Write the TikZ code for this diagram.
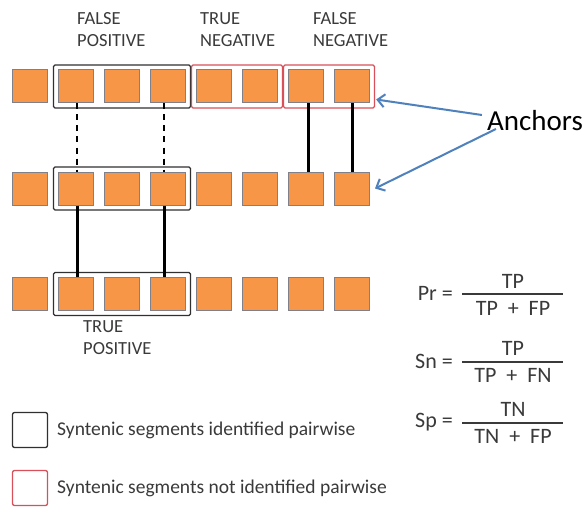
\documentclass[tikz,border=0pt]{standalone}
\usepackage{fontspec}
\setmainfont{Carlito}
\usetikzlibrary{fit,arrows.meta}
\definecolor{blockfill}{HTML}{F79646}
\definecolor{blockline}{HTML}{80808A}
\definecolor{found}{HTML}{303030}
\definecolor{missed}{HTML}{D9505A}
\definecolor{anchorblue}{HTML}{4F81BD}
\definecolor{labelgray}{HTML}{3A3A3A}
\begin{document}
\begin{tikzpicture}[x=1pt,y=-1pt,
  block/.style={draw=blockline, line width=1pt, fill=blockfill,
    minimum width=35pt, minimum height=33pt, inner sep=0pt},
  segfound/.style={draw=found, line width=1.3pt, rounded corners=1.5pt, inner sep=4.5pt},
  segmissed/.style={draw=missed, line width=1.3pt, rounded corners=1.5pt, inner sep=4.5pt},
  weaklink/.style={draw=black, line width=1.6pt, dash pattern=on 6pt off 5pt},
  anchorlink/.style={draw=black, line width=3pt},
  pointer/.style={draw=anchorblue, line width=2pt, -{Straight Barb[length=7pt,width=13pt]}},
  catlabel/.style={font=\fontsize{18.5}{22}\selectfont, text=labelgray, align=left, anchor=west, inner sep=0pt},
  ftext/.style={font=\fontsize{22}{24}\selectfont, text=labelgray, inner sep=0pt},
  fracbar/.style={draw=labelgray, line width=1.5pt},
  legendbox/.style={line width=1.3pt, rounded corners=2pt, minimum size=35pt, inner sep=0pt},
  legendtext/.style={font=\fontsize{19.5}{22}\selectfont, text=labelgray, anchor=west, inner sep=0pt}
]
\fill[white] (0,0) rectangle (586,508);
\useasboundingbox (0,0) rectangle (586,508);

% three rows of eight blocks
\foreach \r/\y in {1/86.5,2/188.5,3/294}{
  \foreach \c in {1,...,8}{
    \node[block] (b\r-\c) at ({30+46*(\c-1)},\y) {};
  }
}

% segment frames
\node[segfound, fit=(b1-2)(b1-4)] (fp) {};
\node[segmissed, fit=(b1-5)(b1-6)] (tn) {};
\node[segmissed, fit=(b1-7)(b1-8)] (fn) {};
\node[segfound, fit=(b2-2)(b2-4)] (mid) {};
\node[segfound, fit=(b3-2)(b3-4)] (tp) {};

% links between rows
\draw[weaklink] ([xshift=1pt]b1-2.south) -- ([xshift=1pt]b2-2.north);
\draw[weaklink] ([xshift=-4pt]b1-4.south) -- ([xshift=-4pt]b2-4.north);
\draw[anchorlink] ([xshift=2pt]b1-7.south) -- ([xshift=2pt]b2-7.north);
\draw[anchorlink] (b1-8.south) -- (b2-8.north);
\draw[anchorlink] ([xshift=1pt]b2-2.south) -- ([xshift=1pt]b3-2.north);
\draw[anchorlink] ([xshift=-4pt]b2-4.south) -- ([xshift=-4pt]b3-4.north);

% category labels
\node[catlabel] (lfp) at (77,30) {FALSE\\POSITIVE};
\node[catlabel] (ltn) at (200,30) {TRUE\\NEGATIVE};
\node[catlabel] (lfn) at (313,30) {FALSE\\NEGATIVE};
\node[catlabel] (ltp) at (83,338) {TRUE\\POSITIVE};

% anchors callout
\node[font=\fontsize{29}{30}\selectfont, inner sep=0pt] (anch) at (535,121) {Anchors};
\draw[pointer] ([xshift=-5pt,yshift=6pt]anch.west) -- ([xshift=1pt,yshift=-13pt]fn.east);
\draw[pointer] ([xshift=9pt,yshift=-8pt]anch.west) -- ([xshift=5pt]b2-8.east);

% measures
\node[ftext, anchor=east] (prl) at (453,293) {Pr =};
\node[ftext] (prn) at (513,281) {TP};
\node[ftext] (prd) at (513,308) {TP \ + \ FP};
\draw[fracbar] (462,294) -- (563,294);

\node[ftext, anchor=east] (snl) at (453,361) {Sn =};
\node[ftext] (snn) at (513,348) {TP};
\node[ftext] (snd) at (513,375) {TP \ + \ FN};
\draw[fracbar] (462,362) -- (563,362);

\node[ftext, anchor=east] (spl) at (453,422) {Sp =};
\node[ftext] (spn) at (513,409) {TN};
\node[ftext] (spd) at (513,436) {TN \ + \ FP};
\draw[fracbar] (462,423) -- (563,423);

% legend
\node[legendbox, draw=found] (lgf) at (30,430) {};
\node[legendtext] (lgft) at (57,430) {Syntenic segments identified pairwise};
\node[legendbox, draw=missed] (lgm) at (30,488) {};
\node[legendtext] (lgmt) at (57,488) {Syntenic segments not identified pairwise};
\end{tikzpicture}
\end{document}
